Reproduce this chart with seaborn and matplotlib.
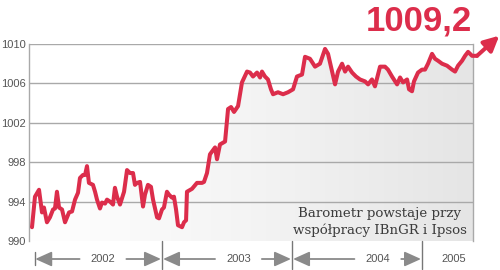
import numpy as np
import pandas as pd
import matplotlib
matplotlib.use("Agg")
import matplotlib.pyplot as plt
import matplotlib.transforms as mtransforms
from matplotlib.colors import LinearSegmentedColormap
from matplotlib.patches import PathPatch
import seaborn as sns

# ---------------- data ----------------
time_years = [
    2002.000, 2002.023, 2002.054, 2002.077, 2002.092, 2002.115, 2002.138, 2002.162,
    2002.177, 2002.192, 2002.208, 2002.231, 2002.254, 2002.285, 2002.308, 2002.331,
    2002.354, 2002.369, 2002.392, 2002.408, 2002.423, 2002.438, 2002.469, 2002.485,
    2002.500, 2002.523, 2002.538, 2002.562, 2002.577, 2002.600, 2002.623, 2002.638,
    2002.654, 2002.677, 2002.708, 2002.731, 2002.754, 2002.777, 2002.792, 2002.808,
    2002.831, 2002.854, 2002.869, 2002.892, 2002.915, 2002.931, 2002.962, 2002.977,
    2003.000, 2003.015, 2003.038, 2003.054, 2003.077, 2003.092, 2003.108, 2003.123,
    2003.154, 2003.169, 2003.185, 2003.192, 2003.231, 2003.269, 2003.308, 2003.323,
    2003.346, 2003.369, 2003.408, 2003.423, 2003.446, 2003.485, 2003.508, 2003.531,
    2003.554, 2003.585, 2003.615, 2003.654, 2003.677, 2003.700, 2003.731, 2003.754,
    2003.769, 2003.792, 2003.815, 2003.838, 2003.854, 2003.892, 2003.931, 2003.969,
    2004.008, 2004.038, 2004.077, 2004.100, 2004.138, 2004.177, 2004.215, 2004.254,
    2004.277, 2004.308, 2004.331, 2004.354, 2004.385, 2004.408, 2004.431, 2004.462,
    2004.492, 2004.523, 2004.562, 2004.585, 2004.615, 2004.638, 2004.677, 2004.715,
    2004.738, 2004.769, 2004.808, 2004.831, 2004.854, 2004.885, 2004.900, 2004.923,
    2004.938, 2004.969, 2005.000, 2005.023, 2005.046, 2005.077, 2005.100, 2005.123,
    2005.154, 2005.192, 2005.231, 2005.254, 2005.277, 2005.308, 2005.331, 2005.354,
    2005.385, 2005.423,
]
index_values = [
    991.4, 994.5, 995.2, 992.9, 993.4, 991.9, 992.4, 993.2,
    993.3, 995.0, 993.4, 993.2, 991.9, 992.9, 993.0, 994.2,
    994.9, 996.4, 996.7, 996.7, 997.6, 995.9, 995.7, 995.0,
    994.2, 993.3, 993.9, 993.8, 994.2, 994.0, 993.7, 995.4,
    994.5, 993.7, 995.0, 997.2, 996.9, 996.9, 995.7, 995.9,
    996.0, 993.5, 994.7, 995.7, 995.5, 994.2, 992.4, 992.3,
    993.2, 993.4, 995.0, 994.7, 994.4, 994.5, 993.2, 991.6,
    991.4, 991.9, 992.1, 995.0, 995.3, 995.9, 995.9, 996.0,
    996.9, 998.8, 999.5, 998.3, 999.8, 1000.1, 1003.4, 1003.6,
    1003.1, 1003.7, 1006.1, 1007.2, 1007.1, 1006.7, 1007.1, 1006.6,
    1007.2, 1006.7, 1006.4, 1005.4, 1004.9, 1005.1, 1004.9, 1005.1,
    1005.4, 1006.7, 1006.9, 1008.7, 1008.5, 1007.7, 1008.0, 1009.5,
    1009.0, 1007.2, 1005.9, 1007.2, 1008.0, 1007.2, 1007.7, 1007.1,
    1006.7, 1006.4, 1006.2, 1005.9, 1006.4, 1005.7, 1007.7, 1007.7,
    1007.4, 1006.7, 1005.9, 1006.6, 1006.1, 1006.4, 1005.4, 1005.2,
    1006.2, 1007.1, 1007.4, 1007.4, 1008.0, 1009.0, 1008.5, 1008.3,
    1008.0, 1007.8, 1007.4, 1007.2, 1007.8, 1008.3, 1008.8, 1009.2,
    1008.8, 1008.8,
]
y_ticks = [990, 994, 998, 1002, 1006, 1010]
y_tick_labels = ["990", "994", "998", "1002", "1006", "1010"]
year_starts = [2002, 2003, 2004, 2005]
year_labels = ["2002", "2003", "2004", "2005"]
year_label_pos = [2002.546, 2003.588, 2004.660, 2005.245]
latest_label = "1009,2"
note_lines = ["Barometr powstaje przy", "współpracy IBnGR i Ipsos"]

RED = "#dc2d4b"
GRID = "#a9a9a9"
TXT = "#555555"

# ---------------- figure ----------------
sns.set_style("white")
plt.rcParams["font.family"] = ["Liberation Sans", "DejaVu Sans"]

W, H = 500, 270
fig = plt.figure(figsize=(W / 100, H / 100), dpi=100)
ax = fig.add_axes([29 / W, 1 - 241 / H, 444 / W, 197 / H])

df = pd.DataFrame({"t": time_years, "v": index_values})
x0, x1 = 2001.977, 2005.392
ax.set_xlim(x0, x1)
ax.set_ylim(990, 1010)

# gradient fill under the line
fill = ax.fill_between(df["t"], df["v"], 990, color="none", lw=0)
patch = PathPatch(fill.get_paths()[0], transform=ax.transData,
                  facecolor="none", edgecolor="none")
ax.add_patch(patch)
cmap = LinearSegmentedColormap.from_list("g", ["#ffffff", "#f4f4f4", "#e5e5e5"])
grad = np.linspace(0, 1, 256).reshape(1, -1)
im = ax.imshow(grad, extent=[x0, x1, 990, 1010], aspect="auto", cmap=cmap,
               origin="lower", zorder=1, interpolation="bilinear")
im.set_clip_path(patch)

# grid / spines
ax.set_yticks(y_ticks)
ax.set_yticklabels(y_tick_labels)
ax.set_xticks([])
ax.yaxis.grid(True, color=GRID, lw=1.0, zorder=2)
ax.set_axisbelow(False)
ax.yaxis.get_gridlines()[0].set_visible(False)
for s in ["top", "bottom"]:
    ax.spines[s].set_visible(False)
for s in ["left", "right"]:
    ax.spines[s].set_color(GRID)
    ax.spines[s].set_linewidth(1.0)
ax.tick_params(axis="y", length=0, pad=2, labelsize=8, labelcolor=TXT)

# the line
sns.lineplot(data=df, x="t", y="v", ax=ax, color=RED, lw=2.9, clip_on=False,
             zorder=6, solid_joinstyle="round", solid_capstyle="round")
ax.set_xlabel("")
ax.set_ylabel("")

# arrow continuing the last point
ax.annotate("", xy=(df["t"].iloc[-1], df["v"].iloc[-1]), xytext=(16, 14.5),
            textcoords="offset points", annotation_clip=False,
            arrowprops=dict(arrowstyle="<|-,head_length=0.9,head_width=0.45",
                            color=RED, lw=2.9, shrinkA=0, shrinkB=0,
                            mutation_scale=10))

# latest value
fig.text(472 / W, 1 - 30 / H, latest_label, ha="right", va="baseline",
         fontsize=25, fontweight="bold", color=RED,
         family=["Liberation Sans", "DejaVu Sans"])

# note
ax.text(0.79, 0.097, note_lines[0] + "\n" + note_lines[1], transform=ax.transAxes,
        ha="center", va="center", fontsize=9.6, color="#3c3c3c",
        family=["DejaVu Serif"], linespacing=1.35, zorder=7)

# year brackets below the axis
trans = mtransforms.blended_transform_factory(ax.transData, ax.transAxes)
ya = -0.0914
for i, (ys, lab, lp) in enumerate(zip(year_starts, year_labels, year_label_pos)):
    ax.text(lp, ya, lab, transform=trans, ha="center", va="center",
            fontsize=8, color=TXT, clip_on=False)
    if i == 0:
        ax.plot([ys + 0.02, ys + 0.02], [-0.057, -0.12], transform=trans,
                color="#777777", lw=1.0, clip_on=False)
    else:
        ax.plot([ys, ys], [0.0, -0.14], transform=trans, color="#777777",
                lw=1.0, clip_on=False)
    if i < len(year_starts) - 1:
        aprops = dict(arrowstyle="-|>,head_length=1.0,head_width=0.45",
                      color="#8a8a8a", lw=1.3, shrinkA=0, shrinkB=0,
                      mutation_scale=10)
        left_tip = ys + (0.025 if i == 0 else 0.008)
        ax.annotate("", xy=(left_tip, ya), xytext=(lp - 0.18, ya),
                    xycoords=trans, textcoords=trans, annotation_clip=False,
                    arrowprops=aprops)
        ax.annotate("", xy=(year_starts[i + 1] - 0.008, ya),
                    xytext=(lp + 0.18, ya), xycoords=trans, textcoords=trans,
                    annotation_clip=False, arrowprops=aprops)

fig.savefig("out.png", dpi=100)
